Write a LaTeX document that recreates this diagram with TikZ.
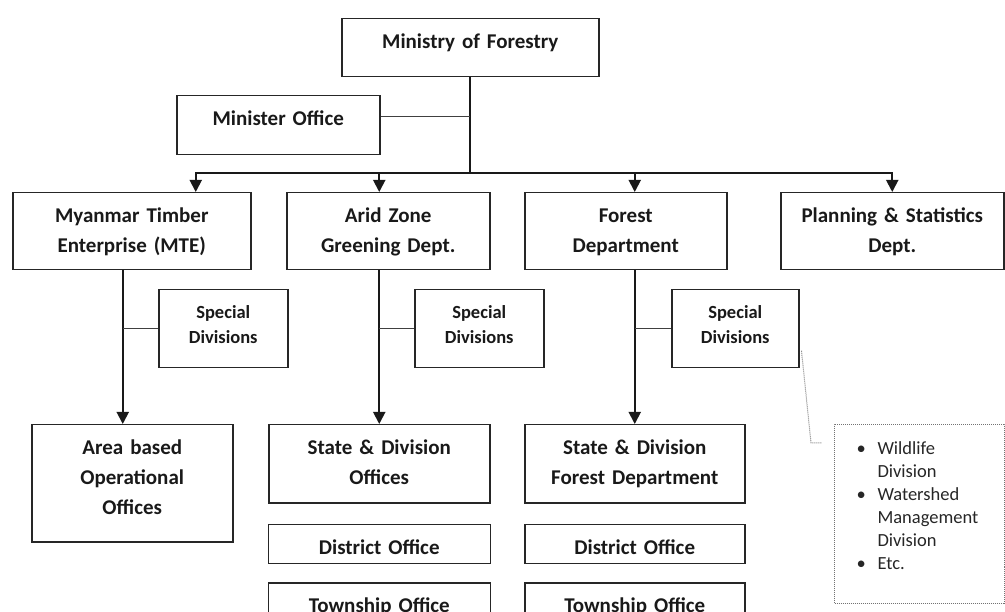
\documentclass[tikz,border=0pt]{standalone}
\usepackage{fontspec}
\setmainfont{Carlito}
\usetikzlibrary{arrows.meta, positioning}

\begin{document}
\begin{tikzpicture}[
                x=1pt, y=-1pt,
                box/.style={rectangle, draw=black!85, line width=1.5pt, inner sep=0pt,
                            align=center, text height=30pt, text=black!90,
                            font=\bfseries\fontsize{21}{30}\selectfont},
                smallbox/.style={box, text height=29pt, font=\bfseries\fontsize{18.5}{25}\selectfont},
                listbox/.style={rectangle, draw=black!55, densely dotted, line width=1pt, inner sep=0pt,
                            align=left, text height=30pt, text=black!85,
                            font=\fontsize{18.5}{23}\selectfont},
                arr/.style={-{Triangle[length=12pt, width=12pt]}, line width=1.9pt, black!90},
                link/.style={line width=1.2pt, black!75},
                note/.style={densely dotted, line width=1pt, black!50}
            ]
                \path[use as bounding box] (0,0) rectangle (1005,612);
                \clip (0,0) rectangle (1005,612);

                \node[box, anchor=north west, text width=257pt, text depth=28pt] (ministry) at (341,18) {Ministry of Forestry};
                \node[box, anchor=north west, text width=203pt, text depth=29pt] (minister) at (176,95) {Minister Office};

                \node[box, anchor=north west, text width=238pt, text depth=47pt] (mte) at (12,192) {Myanmar Timber\\Enterprise (MTE)};
                \node[box, anchor=north west, text width=203pt, text depth=47pt] (arid) at (286,192) {Arid Zone\\Greening Dept.};
                \node[box, anchor=north west, text width=202pt, text depth=47pt] (forest) at (524,192) {Forest\\Department};
                \node[box, anchor=north west, text width=223pt, text depth=47pt] (planning) at (780,192) {Planning \& Statistics\\Dept.};

                \node[smallbox, anchor=north west, text width=129pt, text depth=49pt] (mtediv) at (158,289) {Special\\Divisions};
                \node[smallbox, anchor=north west, text width=129pt, text depth=49pt] (ariddiv) at (414,289) {Special\\Divisions};
                \node[smallbox, anchor=north west, text width=127pt, text depth=49pt] (forestdiv) at (671,289) {Special\\Divisions};

                \node[box, anchor=north west, text width=201pt, text depth=87pt] (area) at (31,424) {Area based\\Operational\\Offices};
                \node[box, anchor=north west, text width=221pt, text depth=48pt] (aridstate) at (268,424) {State \& Division\\Offices};
                \node[box, anchor=north west, text width=220pt, text depth=48pt] (foreststate) at (524,424) {State \& Division\\Forest Department};

                \node[box, below=20pt of aridstate, text width=222pt, text depth=9pt] (ariddistrict) {District Office};
                \node[box, below=18pt of ariddistrict, text width=222pt, text depth=12pt] (aridtownship) {Township Office};
                \node[box, below=20pt of foreststate, text width=220pt, text depth=9pt] (forestdistrict) {District Office};
                \node[box, below=18pt of forestdistrict, text width=220pt, text depth=12pt] (foresttownship) {Township Office};

                \node[listbox, anchor=north west, text width=170pt, text depth=149pt] (divlist) at (834,424) {%
                    \hspace*{22pt}\makebox[21pt][l]{\textbullet}Wildlife\\
                    \hspace*{43pt}Division\\
                    \hspace*{22pt}\makebox[21pt][l]{\textbullet}Watershed\\
                    \hspace*{43pt}Management\\
                    \hspace*{43pt}Division\\
                    \hspace*{22pt}\makebox[21pt][l]{\textbullet}Etc.};

                \coordinate (hub) at (ministry.south |- 0,173);
                \coordinate (mtedrop) at ([xshift=-9pt]mte.south);

                % ministry down to the departments
                \draw[arr] (ministry.south) -- (hub) -| ([xshift=64pt]mte.north);
                \draw[arr] (hub) -| (aridstate.north |- arid.north);
                \draw[arr] (hub) -| (foreststate.north |- forest.north);
                \draw[arr] (hub) -| (planning.north);
                \draw[link] ([yshift=9pt]minister.east) -- ([yshift=9pt]minister.east -| ministry.south);

                % departments down to field offices
                \draw[arr] (mtedrop) -- (mtedrop |- area.north);
                \draw[link] (mtediv.west) -- (mtediv.west -| mtedrop);
                \draw[arr] (arid.south -| aridstate.north) -- (aridstate.north);
                \draw[link] (ariddiv.west) -- (ariddiv.west -| aridstate.north);
                \draw[arr] (forest.south -| foreststate.north) -- (foreststate.north);
                \draw[link] (forestdiv.west) -- (forestdiv.west -| foreststate.north);

                \draw[note] ([xshift=2pt, yshift=-22pt]forestdiv.east) -- ([xshift=-23pt, yshift=-19pt]divlist.north west)
                    -- ([xshift=-12pt, yshift=-19pt]divlist.north west);
            \end{tikzpicture}
\end{document}
